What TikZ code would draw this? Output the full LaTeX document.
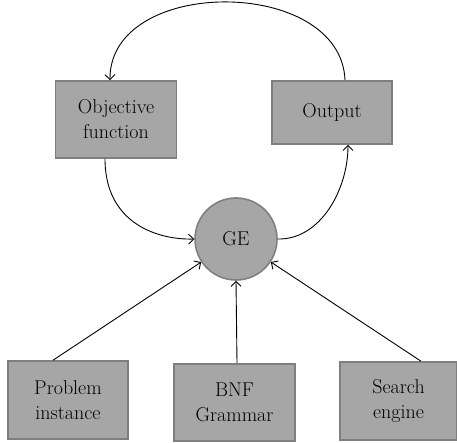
\documentclass[tikz,border=0pt]{standalone}
\usetikzlibrary{arrows.meta}
\begin{document}
\begin{tikzpicture}[x=1pt,y=-1pt,
  box/.style={draw=boxedge,fill=boxfill,line width=1.6pt,align=center,
    font=\rmfamily\fontsize{20}{25}\selectfont,text=black,inner sep=0pt},
  conn/.style={line width=0.9pt,-{Straight Barb[length=5pt,width=10pt]}}]
\definecolor{boxfill}{HTML}{A6A6A6}
\definecolor{boxedge}{HTML}{7F7F7F}
\useasboundingbox (0,0) rectangle (457,443);
\node[box,minimum width=121pt,minimum height=77pt] (obj) at (116,119.5) {Objective\\function};
\node[box,minimum width=120pt,minimum height=63pt] (out) at (332,112.5) {Output};
\node[box,circle,minimum size=82pt] (ge) at (236,239) {GE};
\node[box,minimum width=120pt,minimum height=78pt] (pi) at (68,400) {Problem\\instance};
\node[box,minimum width=121pt,minimum height=77pt] (bnf) at (234.5,402.5) {BNF\\Grammar};
\node[box,minimum width=117pt,minimum height=78pt] (se) at (398.5,401) {Search\\engine};
\draw[conn] ([xshift=13pt]out.north) .. controls (341,-24) and (109,-24) .. ([xshift=-6pt]obj.north);
\draw[conn] ([xshift=-11pt]obj.south) .. controls (105,225) and (160,240) .. (ge.west);
\draw[conn] (ge.east) .. controls (320,240) and (348,190) .. ([xshift=16pt]out.south);
\draw[conn] ([xshift=-15pt]pi.north) -- (ge);
\draw[conn] ([xshift=2.5pt]bnf.north) -- (ge.south);
\draw[conn] ([xshift=22.5pt]se.north) -- (ge);
\end{tikzpicture}
\end{document}
